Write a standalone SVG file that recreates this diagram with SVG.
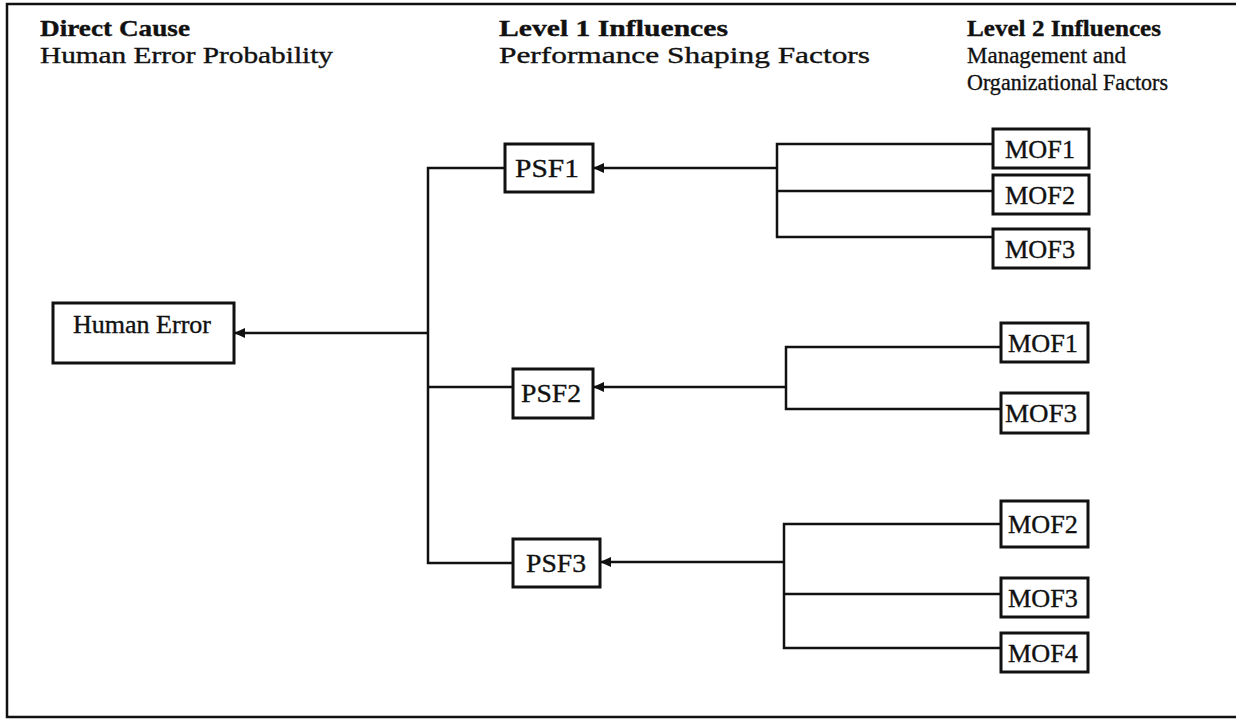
<svg xmlns="http://www.w3.org/2000/svg" width="1236" height="719" viewBox="0 0 1236 719">
  <style>
    .bg { fill: #ffffff; }
    .frame { fill: none; stroke: #111; stroke-width: 2.5; }
    .box { fill: #ffffff; stroke: #111; stroke-width: 3; }
    .wire { fill: none; stroke: #111; stroke-width: 2.5; }
    text { font-family: "Liberation Serif", "Times New Roman", serif; font-size: 26px; fill: #111; stroke: #111; stroke-width: 0.35; }
    .hd { font-size: 23px; }
    .head { font-weight: bold; }
    .lbl { text-anchor: middle; }
  </style>
  <defs>
    <marker id="arrow" markerUnits="userSpaceOnUse" markerWidth="12" markerHeight="11" refX="11" refY="5" orient="auto">
      <path d="M0,0 L11,5 L0,10 z" fill="#111"/>
    </marker>
  </defs>

  <rect class="bg" x="0" y="0" width="1236" height="719"/>
  <path class="frame" d="M1236,4 H7 V717 H1236"/>

  <!-- column headings -->
  <g id="headings">
    <text class="hd head" x="40" y="36" textLength="150" lengthAdjust="spacingAndGlyphs">Direct Cause</text>
    <text class="hd" x="40" y="63" textLength="293" lengthAdjust="spacingAndGlyphs">Human Error Probability</text>
    <text class="hd head" x="499" y="36" textLength="229" lengthAdjust="spacingAndGlyphs">Level 1 Influences</text>
    <text class="hd" x="499" y="63" textLength="371" lengthAdjust="spacingAndGlyphs">Performance Shaping Factors</text>
    <text class="hd head" x="967" y="36" textLength="194" lengthAdjust="spacingAndGlyphs">Level 2 Influences</text>
    <text class="hd" x="967" y="63" textLength="159" lengthAdjust="spacingAndGlyphs">Management and</text>
    <text class="hd" x="967" y="90" textLength="201" lengthAdjust="spacingAndGlyphs">Organizational Factors</text>
  </g>

  <!-- connectors -->
  <g id="connectors">
    <!-- PSFs to human error -->
    <path class="wire" d="M505,168 H428 V563 H513"/>
    <path class="wire" d="M428,387 H513"/>
    <path class="wire" d="M428,333 H234" marker-end="url(#arrow)"/>
    <!-- MOFs to PSF1 -->
    <path class="wire" d="M993,144 H777 V237 H993"/>
    <path class="wire" d="M777,191 H993"/>
    <path class="wire" d="M777,168 H593" marker-end="url(#arrow)"/>
    <!-- MOFs to PSF2 -->
    <path class="wire" d="M1001,347 H786 V409 H1001"/>
    <path class="wire" d="M786,387 H593" marker-end="url(#arrow)"/>
    <!-- MOFs to PSF3 -->
    <path class="wire" d="M1001,524 H784 V648 H1001"/>
    <path class="wire" d="M784,594 H1001"/>
    <path class="wire" d="M784,562 H600" marker-end="url(#arrow)"/>
  </g>

  <g id="human-error">
    <rect class="box" x="53" y="303" width="181" height="60"/>
    <text class="lbl" x="142" y="333" textLength="138" lengthAdjust="spacingAndGlyphs">Human Error</text>
  </g>

  <g id="psf1">
    <rect class="box" x="505" y="144" width="88" height="48"/>
    <text class="lbl" x="547" y="177" textLength="64" lengthAdjust="spacingAndGlyphs">PSF1</text>
  </g>
  <g id="psf2">
    <rect class="box" x="513" y="369" width="80" height="49"/>
    <text class="lbl" x="551" y="402" textLength="60" lengthAdjust="spacingAndGlyphs">PSF2</text>
  </g>
  <g id="psf3">
    <rect class="box" x="513" y="539" width="87" height="48"/>
    <text class="lbl" x="556" y="572" textLength="60" lengthAdjust="spacingAndGlyphs">PSF3</text>
  </g>

  <!-- management and organizational factors, PSF1 group -->
  <g id="mof1-a">
    <rect class="box" x="993" y="129" width="96" height="39"/>
    <text class="lbl" x="1040" y="158" textLength="70" lengthAdjust="spacingAndGlyphs">MOF1</text>
  </g>
  <g id="mof2-a">
    <rect class="box" x="993" y="175" width="96" height="39"/>
    <text class="lbl" x="1040" y="204" textLength="70" lengthAdjust="spacingAndGlyphs">MOF2</text>
  </g>
  <g id="mof3-a">
    <rect class="box" x="993" y="229" width="96" height="39"/>
    <text class="lbl" x="1040" y="258" textLength="70" lengthAdjust="spacingAndGlyphs">MOF3</text>
  </g>

  <!-- PSF2 group -->
  <g id="mof1-b">
    <rect class="box" x="1001" y="323" width="87" height="39"/>
    <text class="lbl" x="1043" y="352" textLength="70" lengthAdjust="spacingAndGlyphs">MOF1</text>
  </g>
  <g id="mof3-b">
    <rect class="box" x="1001" y="393" width="87" height="40"/>
    <text class="lbl" x="1041" y="422" textLength="72" lengthAdjust="spacingAndGlyphs">MOF3</text>
  </g>

  <!-- PSF3 group -->
  <g id="mof2-c">
    <rect class="box" x="1001" y="501" width="87" height="46"/>
    <text class="lbl" x="1043" y="533" textLength="70" lengthAdjust="spacingAndGlyphs">MOF2</text>
  </g>
  <g id="mof3-c">
    <rect class="box" x="1001" y="578" width="87" height="39"/>
    <text class="lbl" x="1043" y="607" textLength="70" lengthAdjust="spacingAndGlyphs">MOF3</text>
  </g>
  <g id="mof4-c">
    <rect class="box" x="1001" y="633" width="87" height="39"/>
    <text class="lbl" x="1043" y="662" textLength="70" lengthAdjust="spacingAndGlyphs">MOF4</text>
  </g>
</svg>
